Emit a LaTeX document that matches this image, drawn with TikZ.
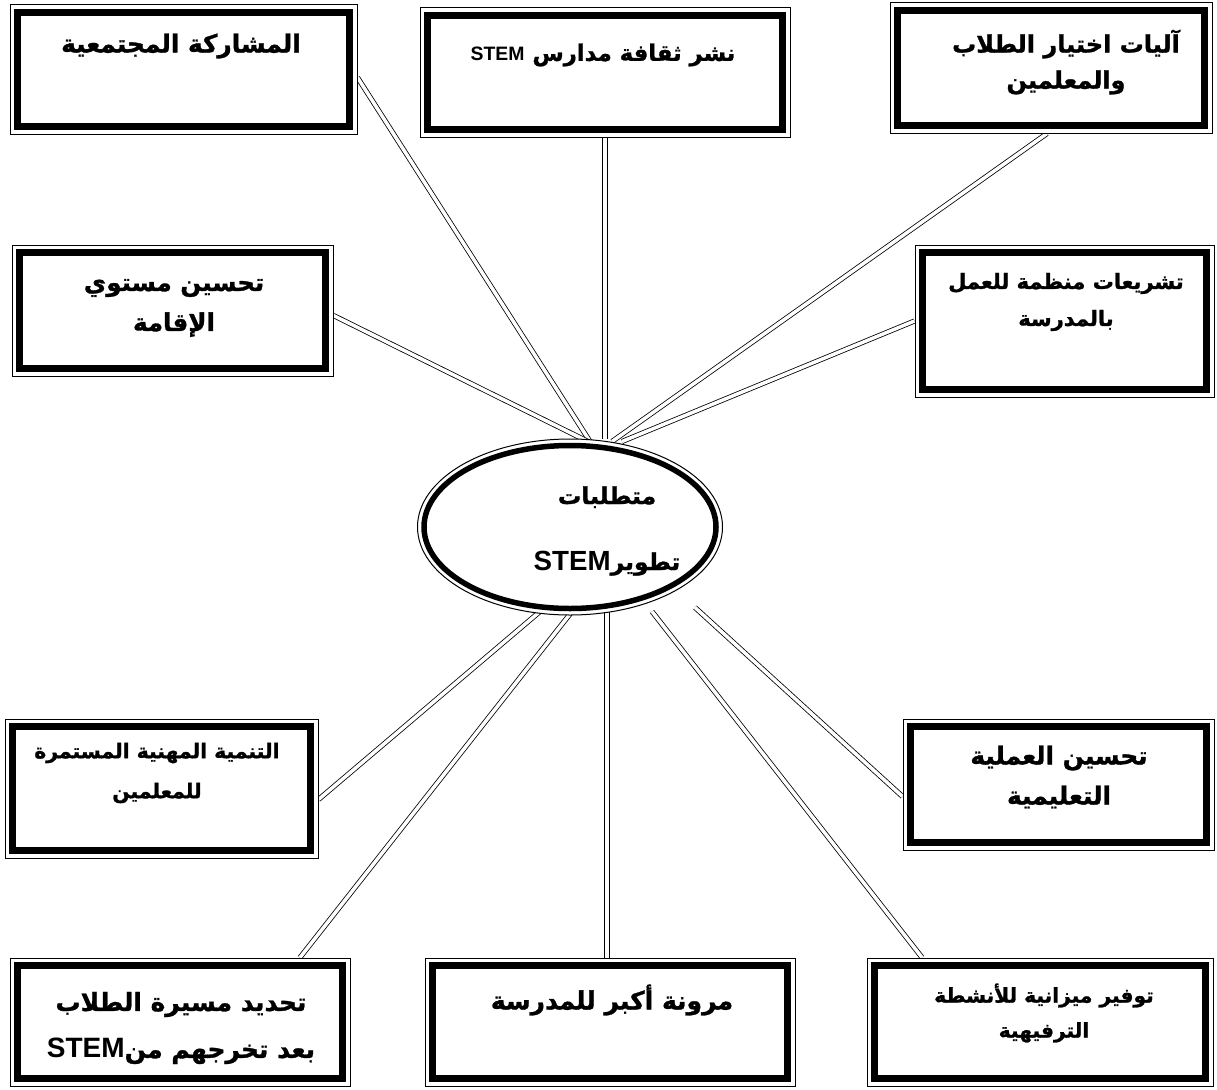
\documentclass[tikz,border=0pt]{standalone}
\usepackage{fontspec}
\usetikzlibrary{calc,backgrounds,shapes.geometric}
\newfontfamily\arabicfont[Script=Arabic, BoldFeatures={FakeBold=1.2}]{DejaVu Sans}
\newfontfamily\latinfont{Liberation Sans}
\TeXXeTstate=1
\newcommand\artxt[1]{\beginR #1\endR}
\newcommand\stemword[1]{{\latinfont\bfseries\fontsize{#1}{#1}\selectfont\beginL STEM\endL}}
\tikzset{
  sbox/.style 2 args={draw, line width=1pt, fill=white, rectangle,
    minimum width=#1, minimum height=#2, inner sep=0pt,
    path picture={\draw[line width=7pt]
      ([shift={(7.5pt,-7.5pt)}]path picture bounding box.north west) rectangle
      ([shift={(-7.5pt,7.5pt)}]path picture bounding box.south east);}},
  core/.style={ellipse, draw, line width=1pt, fill=white,
    minimum width=305pt, minimum height=176pt, inner sep=0pt,
    path picture={\draw[line width=5.5pt] (path picture bounding box.center)
      ellipse [x radius=146pt, y radius=81.5pt];}},
  txt/.style 2 args={font=\arabicfont\bfseries\fontsize{#1}{#2}\selectfont, align=center, inner sep=0pt},
  link/.style={double, double distance=3.5pt, line width=0.8pt},
}
\begin{document}
\begin{tikzpicture}[x=1pt, y=-1pt]
\useasboundingbox (0,0) rectangle (1217,1089);
% boxes
\node[sbox={347pt}{129pt}] (b1) at (183.5,69.5) {};
\node[sbox={370pt}{129pt}] (b2) at (605,72.5) {};
\node[sbox={322pt}{130pt}] (b3) at (1051,68) {};
\node[sbox={321pt}{131pt}] (b4) at (172.5,310.5) {};
\node[sbox={299pt}{152pt}] (b5) at (1064.5,321) {};
\node[sbox={313pt}{139pt}] (b6) at (161.5,788.5) {};
\node[sbox={311pt}{131pt}] (b7) at (1058.5,784.5) {};
\node[sbox={340pt}{128pt}] (b8) at (180,1022) {};
\node[sbox={370pt}{128pt}] (b9) at (610,1022) {};
\node[sbox={346pt}{128pt}] (b10) at (1040,1022) {};
\node[core] (e) at (570,527) {};
% texts
\node[txt={24.8}{36}] (t1) at (181,46) {\artxt{المشاركة المجتمعية}};
\node[txt={22.7}{36}] (t2) at (603,55) {\artxt{نشر ثقافة مدارس \stemword{19.4}}};
\node[txt={24}{36}] (t3) at (1066,62) {\artxt{آليات اختيار الطلاب}\\\artxt{والمعلمين}};
\node[txt={24.5}{40}] (t4) at (174,308) {\artxt{تحسين مستوي}\\\artxt{الإقامة}};
\node[txt={21}{37}] (t5) at (1066,302) {\artxt{تشريعات منظمة للعمل}\\\artxt{بالمدرسة}};
\node[txt={20.3}{40}] (t6) at (157,773) {\artxt{التنمية المهنية المستمرة}\\\artxt{للمعلمين}};
\node[txt={24.8}{40}] (t7) at (1059,777) {\artxt{تحسين العملية}\\\artxt{التعليمية}};
\node[txt={25}{47}] (t8) at (181,1028) {\artxt{تحديد مسيرة الطلاب}\\\artxt{بعد تخرجهم من\stemword{28}}};
\node[txt={25}{36}] (t9) at (612,1000) {\artxt{مرونة أكبر للمدرسة}};
\node[txt={20.2}{35}] (t10) at (1044,1013) {\artxt{توفير ميزانية للأنشطة}\\\artxt{الترفيهية}};
\node[txt={23.4}{66}] (te) at (607,531) {\artxt{متطلبات}\\\artxt{تطوير\stemword{27.7}}};
% connectors
\begin{scope}[on background layer]
\draw[link] ($(b1.east)+(0,8)$) -- ($(e.north)+(20,3)$);
\draw[link] (b2.south) -- (b2.south |- e.north);
\draw[link] ($(b3.south)+(-4,0)$) -- ($(e.north)+(42,3)$);
\draw[link] ($(b4.east)+(0,5)$) -- ($(e.north)+(18,3)$);
\draw[link] (b5.west) -- ($(e.north)+(52,3)$);
\draw[link] ($(b6.east)+(0,11)$) -- ($(e.south)+(-30,-4)$);
\draw[link] ($(b8.north)+(120,0)$) -- ($(e.south)+(2,-4)$);
\draw[link] ($(b9.north)+(-3,0)$) -- ($(e.south)+(37,-4)$);
\draw[link] ($(b10.north)+(-118,0)$) -- ($(e.south)+(82,-4)$);
\draw[link] ($(b7.west)+(0,12)$) -- ($(e.south)+(125,-8)$);
\end{scope}
\end{tikzpicture}
\end{document}
